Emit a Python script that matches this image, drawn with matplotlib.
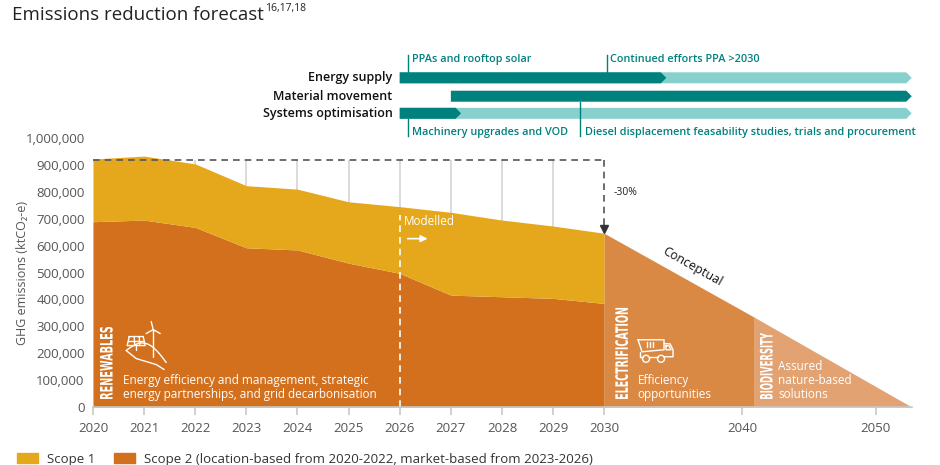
import numpy as np
import matplotlib
matplotlib.use('Agg')
import matplotlib.pyplot as plt
from matplotlib.patches import Polygon, Patch, PathPatch, Circle
from matplotlib.textpath import TextPath
from matplotlib.font_manager import FontProperties
from matplotlib.transforms import Affine2D, IdentityTransform

plt.rcParams['font.family'] = ['Open Sans', 'DejaVu Sans']

# Modelled emissions (tCO2-e)
years = [2020, 2021, 2022, 2023, 2024, 2025, 2026, 2027, 2028, 2029, 2030]
scope2 = [689000, 695000, 668000, 592000, 584000, 535000, 497000, 416000, 410000, 404000, 385000]
scope1 = [233000, 238000, 236000, 231000, 226000, 228000, 248000, 308000, 285000, 269000, 261000]
baseline = 919000

# Conceptual pathway after 2030
concept_years = [2030, 2040.9, 2052.7]
concept_vals = [646000, 334000, 0]

# Top timeline bars: (start, end) in years
energy_light = (2026, 2052.7)
energy_dark = (2026, 2034.5)
material_dark = (2027, 2052.7)
systems_light = (2026, 2052.7)
systems_dark = (2026, 2027.2)

xticks = years + [2040, 2050]
yticks = list(range(0, 1000001, 100000))

c_s1 = '#E5A71B'
c_s2 = '#D2701E'
c_elec = '#DA8945'
c_bio = '#E3A272'
teal = '#00817D'
teal_l = '#87D0CD'
grey = '#555555'

# piecewise year axis: 2020-2030 wide, after 2030 compressed
year_knots = [2000, 2020, 2030, 2040, 2050, 2080]
pos_knots = [-20, 0, 10, 12.70, 15.31, 23.14]


def fwd(x):
    return np.interp(x, year_knots, pos_knots)


def inv(p):
    return np.interp(p, pos_knots, year_knots)


fig = plt.figure(figsize=(9.4, 4.65), dpi=100)
ax = fig.add_axes([0.0989, 0.1247, 0.871, 0.5784])
ax.set_xscale('function', functions=(fwd, inv))
ax.set_xlim(2020, 2052.7)
ax.set_ylim(0, 1000000)

total = np.array(scope1) + np.array(scope2)
ax.vlines(years[1:10], 0, baseline, color='#d4d4d4', lw=1.2, zorder=0)
ax.fill_between(years, 0, scope2, color=c_s2, lw=0, zorder=1)
ax.fill_between(years, scope2, total, color=c_s1, lw=0, zorder=1)
ax.fill_between(concept_years[:2], 0, concept_vals[:2], color=c_elec, lw=0, zorder=1)
ax.fill_between(concept_years[1:], 0, concept_vals[1:], color=c_bio, lw=0, zorder=1)

# baseline and -30% marker
ax.plot([2020, 2030], [baseline, baseline], ls=(0, (4, 3)), color=grey, lw=1.2, zorder=3)
ax.plot([2030, 2030], [baseline, total[-1] + 25000], ls=(0, (4, 3)), color=grey, lw=1.2, zorder=3)
ax.plot(2030, total[-1] + 16000, marker='v', ms=6, color='#333333', zorder=4)
ax.text(2030.65, 797000, '-30%', fontsize=7.5, color='#222222', va='center')

# modelled divider
ax.vlines(2026, 0, 715000, colors='white', linestyles=(0, (4, 3)), lw=1.2, zorder=3)
ax.text(2026.08, 689000, 'Modelled', color='white', fontsize=8.5, va='center')
ax.annotate('', xy=(2026.6, 626000), xytext=(2026.1, 626000),
            arrowprops=dict(arrowstyle='-|>', color='white', lw=1.2, mutation_scale=10))

ax.text(2036.4, 520000, 'Conceptual', rotation=-29.5, fontsize=9, color='#111111',
        ha='center', va='center', rotation_mode='anchor')

ax.text(2020.59, 73000, 'Energy efficiency and management, strategic\nenergy partnerships, and grid decarbonisation',
        color='white', fontsize=8.5, va='center', linespacing=1.1)
ax.text(2032.41, 73000, 'Efficiency\nopportunities', color='white', fontsize=8.5, va='center', linespacing=1.1)
ax.text(2042.69, 99000, 'Assured\nnature-based\nsolutions', color='white', fontsize=8.5, va='center',
        linespacing=1.1)

for s in ['top', 'right', 'left']:
    ax.spines[s].set_visible(False)
ax.spines['bottom'].set_color('#c8c8c8')
ax.spines['bottom'].set_linewidth(1.2)
ax.spines['bottom'].set_zorder(5)
ax.set_xticks(xticks)
ax.set_xticklabels([str(y) for y in xticks])
ax.set_yticks(yticks)
ax.set_yticklabels(['{:,}'.format(v) for v in yticks])
ax.tick_params(axis='x', length=6, width=1.2, color='#c8c8c8', labelsize=9.5, labelcolor=grey, pad=5)
ax.tick_params(axis='y', length=0, labelsize=9.5, labelcolor=grey, pad=6)
ax.set_ylabel('GHG emissions (ktCO₂-e)', fontsize=9, color=grey, labelpad=-2.5)

# condensed vertical section labels, drawn as squeezed text paths
bold = FontProperties(family='DejaVu Sans', weight='bold')
cap_h = TextPath((0, 0), 'E', size=10, prop=bold).get_extents().height


def section_label(x, y0, s, length_px, height_px=12.5):
    tp = TextPath((0, 0), s, size=10, prop=bold)
    ext = tp.get_extents()
    px, py = ax.transData.transform((x, y0))
    tr = (Affine2D().translate(-ext.x0, 0)
          .scale(length_px / ext.width, height_px / cap_h)
          .rotate_deg(90).translate(px + height_px / 2, py))
    ax.add_patch(PathPatch(tr.transform_path(tp), color='white', lw=0,
                           transform=IdentityTransform(), clip_on=False, zorder=4))


section_label(2020.26, 30000, 'RENEWABLES', 72)
section_label(2031.26, 30000, 'ELECTRIFICATION', 91)
section_label(2041.8, 30000, 'BIODIVERSITY', 66)


# simple white line icons (pixel offsets from an anchor point)
def icon_lines(anchor, segs, lw=1.0):
    ax_, ay_ = ax.transData.transform(anchor)
    for seg in segs:
        seg = np.asarray(seg, dtype=float)
        ax.plot(ax_ + seg[:, 0], ay_ - seg[:, 1], color='white', lw=lw,
                transform=IdentityTransform(), clip_on=False, zorder=4, solid_capstyle='round')


def icon_circle(anchor, cx, cy, r):
    ax_, ay_ = ax.transData.transform(anchor)
    ax.add_patch(Circle((ax_ + cx, ay_ - cy), r, fill=False, ec='white', lw=1.0,
                        transform=IdentityTransform(), clip_on=False, zorder=4))


# solar panel + wind turbine on a hill
t = np.linspace(0, 1, 20)
hill = np.c_[t * 40, 14 - 10 * np.sin(t * np.pi) + 12 * t ** 2]
icon_lines((2020.65, 262000), [
    [(3, 0), (17, 0), (19, 9), (1, 9), (3, 0)],
    [(2, 4.5), (18, 4.5)], [(8, 0), (8.5, 9)], [(13, 0), (13.5, 9)],
    [(10, 9), (10, 13)],
    [(27, -7), (27, 20)], [(27, -7), (25, -15)], [(27, -7), (20, -3)], [(27, -7), (34, -3)],
    hill, [(0, 14), (10, 22), (30, 28), (38, 33)],
])

# dump truck
truck_anchor = (2032.45, 250000)
icon_lines(truck_anchor, [
    [(0, 0), (26, 0), (26, 10), (4, 12), (0, 0)],
    [(9, 2), (9, 7)], [(12, 2), (12, 7)], [(15, 2), (15, 7)],
    [(26, 4), (32, 4), (35, 10), (35, 17), (26, 17)],
    [(28, 6), (31, 6), (33, 10), (28, 10), (28, 6)],
    [(2, 12), (2, 17), (5, 17)], [(11, 17), (20, 17)],
])
icon_circle(truck_anchor, 8, 19, 3.5)
icon_circle(truck_anchor, 23, 19, 3.5)

# timeline bars above the chart
axt = fig.add_axes([0.0989, 0.6989, 0.871, 0.2043], sharex=ax)
axt.set_ylim(140, 45)
axt.axis('off')
axt.patch.set_alpha(0)

bar_h = 11
rows = {'Energy supply': 77.8, 'Material movement': 96.2, 'Systems optimisation': 113.3}
tip = 5.5 / 51.13


def bar_arrow(span, yc, color):
    x0, x1 = span
    xb = inv(fwd(x1) - tip)
    pts = [(x0, yc - bar_h / 2), (xb, yc - bar_h / 2), (x1, yc), (xb, yc + bar_h / 2), (x0, yc + bar_h / 2)]
    axt.add_patch(Polygon(pts, closed=True, color=color, lw=0))


bar_arrow(energy_light, rows['Energy supply'], teal_l)
bar_arrow(energy_dark, rows['Energy supply'], teal)
bar_arrow(material_dark, rows['Material movement'], teal)
bar_arrow(systems_light, rows['Systems optimisation'], teal_l)
bar_arrow(systems_dark, rows['Systems optimisation'], teal)

for name, yc in rows.items():
    axt.text(2025.86, yc, name, ha='right', va='center', fontsize=9, color='#111111', fontweight='semibold')

milestones = [
    (2026.17, 55, 72, 2026.25, 59, 'PPAs and rooftop solar'),
    (2030.19, 55, 72, 2030.41, 59, 'Continued efforts PPA >2030'),
    (2026.17, 119, 136, 2026.25, 132.7, 'Machinery upgrades and VOD'),
    (2029.53, 101.7, 136, 2029.62, 132.7, 'Diesel displacement feasability studies, trials and procurement'),
]
for lx, y0, y1, tx, ty, txt in milestones:
    axt.plot([lx, lx], [y0, y1], color=teal, lw=1)
    axt.text(tx, ty, txt, color=teal, fontsize=7.8, va='center', fontweight='semibold')

# title with superscript refs
title = fig.text(0.0128, 0.968, 'Emissions reduction forecast', fontsize=13.5, color='#222222',
                 va='center', fontweight='medium')
fig.canvas.draw()
bb = title.get_window_extent()
fig.text(bb.x1 / fig.bbox.width + 0.001, 0.982, '16,17,18', fontsize=7.5, color='#222222', va='center')

handles = [Patch(color=c_s1, label='Scope 1'),
           Patch(color=c_s2, label='Scope 2 (location-based from 2020-2022, market-based from 2023-2026)')]
leg = fig.legend(handles=handles, loc='lower left', bbox_to_anchor=(0.005, -0.027), ncol=2, frameon=False,
                 fontsize=9.5, handlelength=1.6, handleheight=0.8, columnspacing=1.4, handletextpad=0.7)
for t in leg.get_texts():
    t.set_color('#333333')

fig.savefig('out.png', dpi=100)
